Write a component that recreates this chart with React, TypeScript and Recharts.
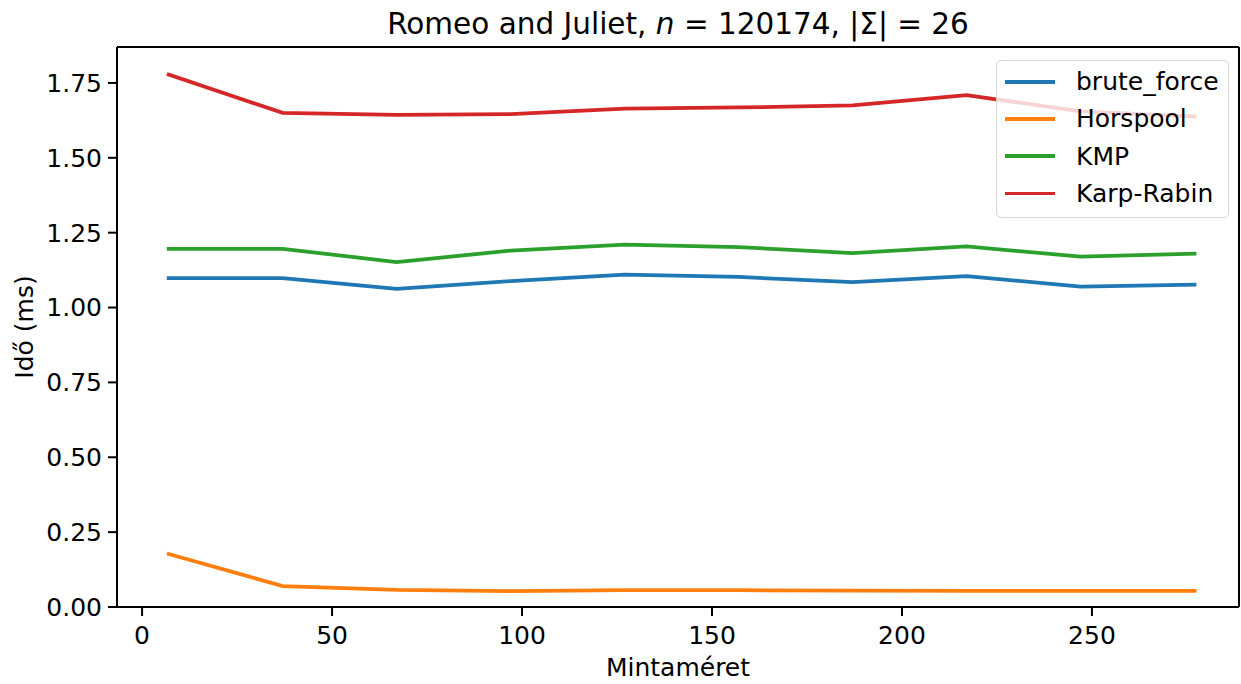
import React from "react";
import { LineChart, Line, XAxis, YAxis, ReferenceLine, Legend } from "recharts";

// pattern lengths on the x axis
const sizes = [7, 37, 67, 97, 127, 157, 187, 217, 247, 277];

// running time in ms per algorithm
const bruteForce = [1.098, 1.098, 1.062, 1.088, 1.11, 1.102, 1.085, 1.105, 1.07, 1.076];
const horspool = [0.177, 0.07, 0.057, 0.053, 0.056, 0.056, 0.055, 0.054, 0.054, 0.054];
const kmp = [1.196, 1.196, 1.152, 1.19, 1.21, 1.202, 1.182, 1.204, 1.17, 1.18];
const karpRabin = [1.778, 1.65, 1.643, 1.646, 1.664, 1.668, 1.675, 1.709, 1.655, 1.638];

const xTicks = [0, 50, 100, 150, 200, 250];
const yTicks = [0, 0.25, 0.5, 0.75, 1.0, 1.25, 1.5, 1.75];

const X_MIN = -6.6;
const X_MAX = 288.7;
const Y_MAX = 1.87;

const FONT = "'DejaVu Sans', sans-serif";

const SERIES = [
  { key: "brute_force", color: "#1f77b4", values: bruteForce },
  { key: "Horspool", color: "#ff7f0e", values: horspool },
  { key: "KMP", color: "#2ca02c", values: kmp },
  { key: "Karp-Rabin", color: "#d62728", values: karpRabin },
];

const data = sizes.map((m, i) => {
  const row: Record<string, number> = { m };
  SERIES.forEach((s) => {
    row[s.key] = s.values[i];
  });
  return row;
});

function LegendBox() {
  return (
    <div
      style={{
        width: 233,
        height: 158,
        boxSizing: "border-box",
        border: "1.6px solid #d4d4d4",
        borderRadius: 5,
        background: "rgba(255,255,255,0.8)",
        paddingTop: 2,
        fontFamily: FONT,
        fontSize: 25,
        color: "#000",
      }}
    >
      {SERIES.map((s) => (
        <div
          key={s.key}
          style={{ height: 37.3, display: "flex", alignItems: "center" }}
        >
          <div
            style={{
              width: 50,
              height: 3.75,
              marginLeft: 8,
              background: s.color,
            }}
          />
          <span style={{ marginLeft: 21, whiteSpace: "nowrap" }}>{s.key}</span>
        </div>
      ))}
    </div>
  );
}

export default function App() {
  const tickStyle = { fill: "#000", fontSize: 25, fontFamily: FONT };
  return (
    <div
      style={{
        position: "absolute",
        left: 0,
        top: 0,
        width: 1241,
        height: 684,
        background: "#fff",
        fontFamily: FONT,
      }}
    >
      <LineChart
        width={1241}
        height={684}
        data={data}
        margin={{ top: 47, right: 2, bottom: 0, left: 0 }}
      >
        <XAxis
          dataKey="m"
          type="number"
          domain={[X_MIN, X_MAX]}
          ticks={xTicks}
          allowDataOverflow
          height={77}
          tick={tickStyle}
          tickSize={9}
          tickMargin={10}
          tickLine={{ stroke: "#000", strokeWidth: 2 }}
          axisLine={{ stroke: "#000", strokeWidth: 2 }}
        />
        <YAxis
          type="number"
          domain={[0, Y_MAX]}
          ticks={yTicks}
          allowDataOverflow
          width={117}
          tick={tickStyle}
          tickFormatter={(v: number) => v.toFixed(2)}
          tickSize={9}
          tickMargin={6}
          tickLine={{ stroke: "#000", strokeWidth: 2 }}
          axisLine={{ stroke: "#000", strokeWidth: 2 }}
        />
        {/* top and right frame */}
        <ReferenceLine y={Y_MAX} stroke="#000" strokeWidth={2} />
        <ReferenceLine x={X_MAX} stroke="#000" strokeWidth={2} />
        {SERIES.map((s) => (
          <Line
            key={s.key}
            dataKey={s.key}
            type="linear"
            stroke={s.color}
            strokeWidth={3.75}
            strokeLinecap="square"
            dot={false}
            activeDot={false}
            isAnimationActive={false}
          />
        ))}
        <Legend
          layout="vertical"
          align="center"
          verticalAlign="middle"
          wrapperStyle={{ left: 996, top: 60, width: 233 }}
          content={() => <LegendBox />}
        />
      </LineChart>
      <svg
        width={1241}
        height={684}
        style={{ position: "absolute", left: 0, top: 0, pointerEvents: "none" }}
      >
        <text
          x={678}
          y={34}
          textAnchor="middle"
          fontSize={29.5}
          fontFamily={FONT}
          fill="#000"
        >
          Romeo and Juliet, <tspan fontStyle="italic">n</tspan> = 120174, |Σ| = 26
        </text>
        <text
          x={678}
          y={676}
          textAnchor="middle"
          fontSize={25}
          fontFamily={FONT}
          fill="#000"
        >
          Mintaméret
        </text>
        <text
          transform="translate(24,327) rotate(-90)"
          textAnchor="middle"
          dominantBaseline="central"
          fontSize={25}
          fontFamily={FONT}
          fill="#000"
        >
          Idő (ms)
        </text>
      </svg>
    </div>
  );
}
